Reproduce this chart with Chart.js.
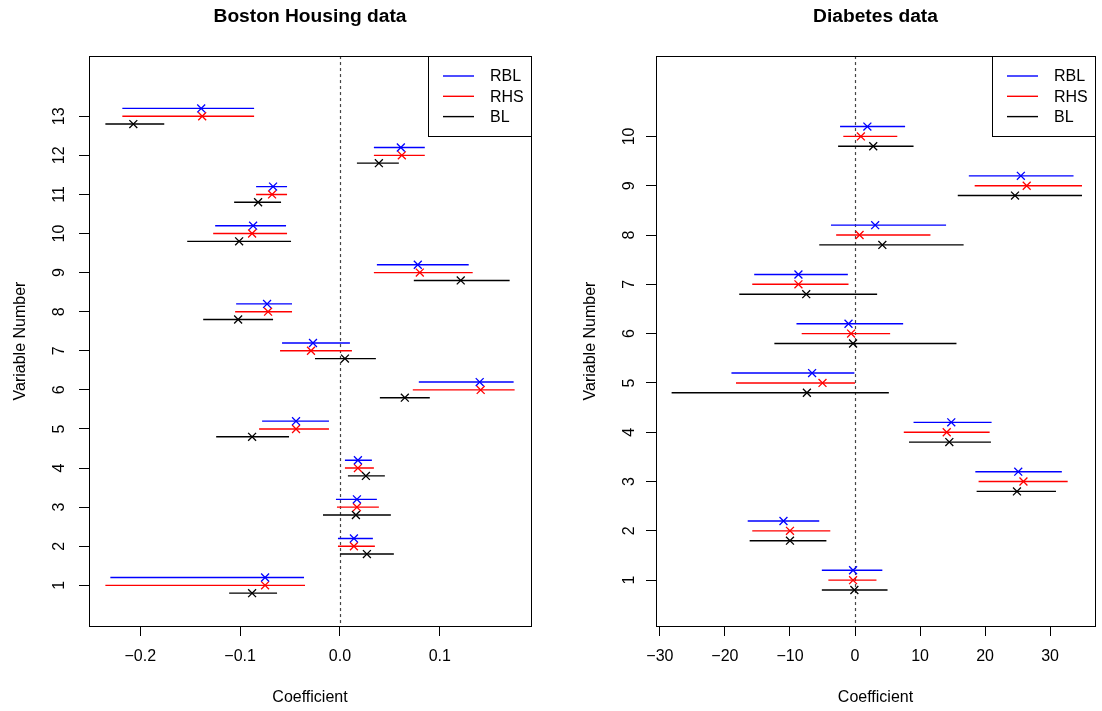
<!DOCTYPE html>
<html>
<head>
<meta charset="utf-8">
<script src="https://cdn.jsdelivr.net/npm/chart.js@4.4.0/dist/chart.umd.min.js"></script>
<style>
  html, body { margin: 0; padding: 0; background: #fff; }
  #wrap { position: relative; width: 1102px; height: 711px; }
  canvas { position: absolute; top: 0; }
</style>
</head>
<body>
<div id="wrap">
  <canvas id="boston" width="551" height="711" style="left:0"></canvas>
  <canvas id="diabetes" width="551" height="711" style="left:551px"></canvas>
</div>
<script>
// Boston Housing: variable numbers, tick values, and interval estimates per method
const bostonVars = [1, 2, 3, 4, 5, 6, 7, 8, 9, 10, 11, 12, 13];
const bostonXTicks = [-0.2, -0.1, 0, 0.1];

const bostonRblMid = [-0.075, 0.014, 0.017, 0.018, -0.044, 0.140, -0.027, -0.073, 0.078, -0.087, -0.067, 0.061, -0.139];
const bostonRblLo  = [-0.230, -0.002, -0.004, 0.005, -0.078, 0.079, -0.058, -0.104, 0.037, -0.125, -0.084, 0.034, -0.218];
const bostonRblHi  = [-0.036, 0.033, 0.037, 0.032, -0.011, 0.174, 0.010, -0.048, 0.129, -0.054, -0.053, 0.085, -0.086];

const bostonRhsMid = [-0.075, 0.014, 0.017, 0.018, -0.044, 0.141, -0.029, -0.072, 0.080, -0.088, -0.068, 0.062, -0.138];
const bostonRhsLo  = [-0.235, -0.002, -0.003, 0.005, -0.081, 0.073, -0.060, -0.105, 0.034, -0.127, -0.084, 0.034, -0.218];
const bostonRhsHi  = [-0.035, 0.035, 0.039, 0.034, -0.011, 0.175, 0.012, -0.048, 0.133, -0.053, -0.053, 0.085, -0.086];

const bostonBlMid = [-0.088, 0.027, 0.016, 0.026, -0.088, 0.065, 0.005, -0.102, 0.121, -0.101, -0.082, 0.039, -0.207];
const bostonBlLo  = [-0.111, 0.000, -0.017, 0.008, -0.124, 0.040, -0.025, -0.137, 0.074, -0.153, -0.106, 0.017, -0.235];
const bostonBlHi  = [-0.063, 0.054, 0.051, 0.045, -0.051, 0.090, 0.036, -0.067, 0.170, -0.049, -0.059, 0.059, -0.176];

// Diabetes
const diabetesVars = [1, 2, 3, 4, 5, 6, 7, 8, 9, 10];
const diabetesXTicks = [-30, -20, -10, 0, 10, 20, 30];

const diabetesRblMid = [-0.3, -11.0, 25.1, 14.8, -6.6, -1.0, -8.7, 3.1, 25.5, 1.9];
const diabetesRblLo  = [-5.1, -16.5, 18.5, 9.0, -19.0, -9.0, -15.5, -3.7, 17.5, -2.3];
const diabetesRblHi  = [4.2, -5.5, 31.8, 21.0, -0.1, 7.4, -1.1, 14.0, 33.6, 7.7];

const diabetesRhsMid = [-0.3, -10.0, 25.9, 14.1, -5.0, -0.6, -8.7, 0.7, 26.4, 0.9];
const diabetesRhsLo  = [-4.1, -15.8, 19.0, 7.5, -18.3, -8.2, -15.8, -2.9, 18.4, -1.8];
const diabetesRhsHi  = [3.3, -3.8, 32.7, 20.7, 0.0, 5.4, -1.0, 11.6, 34.9, 6.5];

const diabetesBlMid = [-0.1, -10.0, 24.9, 14.5, -7.4, -0.3, -7.5, 4.2, 24.6, 2.8];
const diabetesBlLo  = [-5.1, -16.2, 18.7, 8.3, -28.2, -12.4, -17.8, -5.5, 15.8, -2.6];
const diabetesBlHi  = [5.0, -4.4, 30.9, 20.9, 5.2, 15.6, 3.4, 16.7, 34.9, 9.0];

const FONT = '"Liberation Sans", Arial, Helvetica, sans-serif';
Chart.defaults.font.family = FONT;
Chart.defaults.font.size = 16;
Chart.defaults.color = '#000';

// each method sits a bit above / below the variable row
const methodStyles = [
    { label: 'RBL', color: '#0000ff', shift: 0.2 },
    { label: 'RHS', color: '#ff0000', shift: 0 },
    { label: 'BL', color: '#000000', shift: -0.2 }
];

function fmtMinus(text) {
    return String(text).replace('-', '\u2212');
}

function intervalPoints(vars, lo, hi, shift) {
    const pts = [];
    vars.forEach((v, i) => {
        pts.push({ x: lo[i], y: v + shift }, { x: hi[i], y: v + shift }, { x: null, y: null });
    });
    return pts;
}

function midPoints(vars, mid, shift) {
    return vars.map((v, i) => ({ x: mid[i], y: v + shift }));
}

const zeroAndFrame = {
    id: 'zeroAndFrame',
    beforeDatasetsDraw(chart) {
        const { ctx, chartArea, scales } = chart;
        const x = Math.round(scales.x.getPixelForValue(0)) + 0.5;
        ctx.save();
        ctx.strokeStyle = '#444';
        ctx.lineWidth = 1.2;
        ctx.setLineDash([3, 3]);
        ctx.beginPath();
        ctx.moveTo(x, chartArea.top);
        ctx.lineTo(x, chartArea.bottom);
        ctx.stroke();
        ctx.restore();
    },
    afterDraw(chart) {
        const { ctx, chartArea } = chart;
        ctx.save();
        ctx.strokeStyle = '#000';
        ctx.lineWidth = 1;
        ctx.strokeRect(Math.round(chartArea.left) + 0.5, Math.round(chartArea.top) + 0.5,
            Math.round(chartArea.width), Math.round(chartArea.height));
        ctx.restore();
    }
};

const boxLegend = {
    id: 'boxLegend',
    afterDraw(chart, args, opts) {
        const { ctx, chartArea } = chart;
        const items = chart.data.datasets.filter((d) => d.type === 'line');
        ctx.save();
        ctx.font = '16px ' + FONT;
        const textW = Math.max(...items.map((d) => ctx.measureText(d.label).width));
        const w = opts.padLeft + opts.lineLen + opts.gap + textW + opts.padRight;
        const x0 = Math.round(chartArea.right - w);
        const y0 = Math.round(chartArea.top);
        ctx.fillStyle = '#fff';
        ctx.fillRect(x0, y0, w, opts.height);
        ctx.strokeStyle = '#000';
        ctx.lineWidth = 1;
        ctx.strokeRect(x0 + 0.5, y0 + 0.5, Math.round(chartArea.right) - x0, opts.height);

        items.forEach((d, i) => {
            const y = y0 + opts.firstRow + i * opts.rowGap;
            ctx.strokeStyle = d.borderColor;
            ctx.lineWidth = d.borderWidth;
            ctx.beginPath();
            ctx.moveTo(x0 + opts.padLeft, y);
            ctx.lineTo(x0 + opts.padLeft + opts.lineLen, y);
            ctx.stroke();
            ctx.fillStyle = '#000';
            ctx.textBaseline = 'middle';
            ctx.textAlign = 'left';
            ctx.fillText(d.label, x0 + opts.padLeft + opts.lineLen + opts.gap, y + 1);
        });
        ctx.restore();
    }
};

function buildPanel(canvasId, cfg) {
    const datasets = [];
    methodStyles.forEach((m, k) => {
        datasets.push({
            type: 'line',
            label: m.label,
            data: intervalPoints(cfg.vars, cfg.lo[k], cfg.hi[k], m.shift),
            borderColor: m.color,
            borderWidth: 1.4,
            pointRadius: 0,
            spanGaps: false,
            fill: false
        });
    });
    methodStyles.forEach((m, k) => {
        datasets.push({
            type: 'scatter',
            label: m.label + ' estimate',
            data: midPoints(cfg.vars, cfg.mid[k], m.shift),
            pointStyle: 'crossRot',
            pointRadius: 5.6,
            pointBorderWidth: 1.3,
            borderColor: m.color,
            backgroundColor: m.color,
            showLine: false
        });
    });

    return new Chart(document.getElementById(canvasId), {
        type: 'scatter',
        data: { datasets },
        options: {
            responsive: false,
            animation: false,
            events: [],
            layout: { padding: { left: 0, right: cfg.padRight, top: 0, bottom: 0 } },
            plugins: {
                legend: { display: false },
                tooltip: { enabled: false },
                title: {
                    display: true,
                    text: cfg.title,
                    fullSize: false,
                    color: '#000',
                    font: { size: 19.2, weight: 'bold' },
                    padding: { top: 5.5, bottom: 27.5 }
                },
                boxLegend: { padLeft: 15, lineLen: 31, gap: 16, padRight: 7, height: 80, firstRow: 20, rowGap: 20.3 }
            },
            scales: {
                x: {
                    type: 'linear',
                    min: cfg.xMin,
                    max: cfg.xMax,
                    afterBuildTicks: (scale) => { scale.ticks = cfg.xTicks.map((v) => ({ value: v })); },
                    afterFit: (scale) => { scale.height = 85; },
                    grid: { drawOnChartArea: false, drawTicks: true, tickLength: 10, color: '#000', lineWidth: 1 },
                    border: { display: true, color: '#000' },
                    ticks: { padding: 11, maxRotation: 0, callback: cfg.xFormat },
                    title: { display: true, text: 'Coefficient', padding: { top: 0, bottom: 4 } }
                },
                y: {
                    type: 'linear',
                    min: cfg.yMin,
                    max: cfg.yMax,
                    afterBuildTicks: (scale) => { scale.ticks = cfg.vars.map((v) => ({ value: v })); },
                    afterFit: (scale) => { scale.width = cfg.yWidth; },
                    grid: { drawOnChartArea: false, drawTicks: true, tickLength: 10, color: '#000', lineWidth: 1 },
                    border: { display: true, color: '#000' },
                    ticks: { padding: cfg.yTickPad, minRotation: 90, maxRotation: 90, crossAlign: 'center' },
                    title: { display: true, text: 'Variable Number', padding: { top: cfg.yTitlePad, bottom: 0 } }
                }
            }
        },
        plugins: [zeroAndFrame, boxLegend]
    });
}

buildPanel('boston', {
    title: 'Boston Housing data',
    vars: bostonVars,
    xTicks: bostonXTicks,
    mid: [bostonRblMid, bostonRhsMid, bostonBlMid],
    lo: [bostonRblLo, bostonRhsLo, bostonBlLo],
    hi: [bostonRblHi, bostonRhsHi, bostonBlHi],
    xMin: -0.2514, xMax: 0.1914,
    yMin: -0.04, yMax: 14.54,
    xFormat: (v) => fmtMinus(Number(v).toFixed(1)),
    yWidth: 89, yTickPad: 11, yTitlePad: 11,
    padRight: 20
});

buildPanel('diabetes', {
    title: 'Diabetes data',
    vars: diabetesVars,
    xTicks: diabetesXTicks,
    mid: [diabetesRblMid, diabetesRhsMid, diabetesBlMid],
    lo: [diabetesRblLo, diabetesRhsLo, diabetesBlLo],
    hi: [diabetesRblHi, diabetesRhsHi, diabetesBlHi],
    xMin: -30.6, xMax: 36.9,
    yMin: 0.07, yMax: 11.63,
    xFormat: (v) => fmtMinus(v),
    yWidth: 105, yTickPad: 8, yTitlePad: 30.4,
    padRight: 7
});
</script>
</body>
</html>
